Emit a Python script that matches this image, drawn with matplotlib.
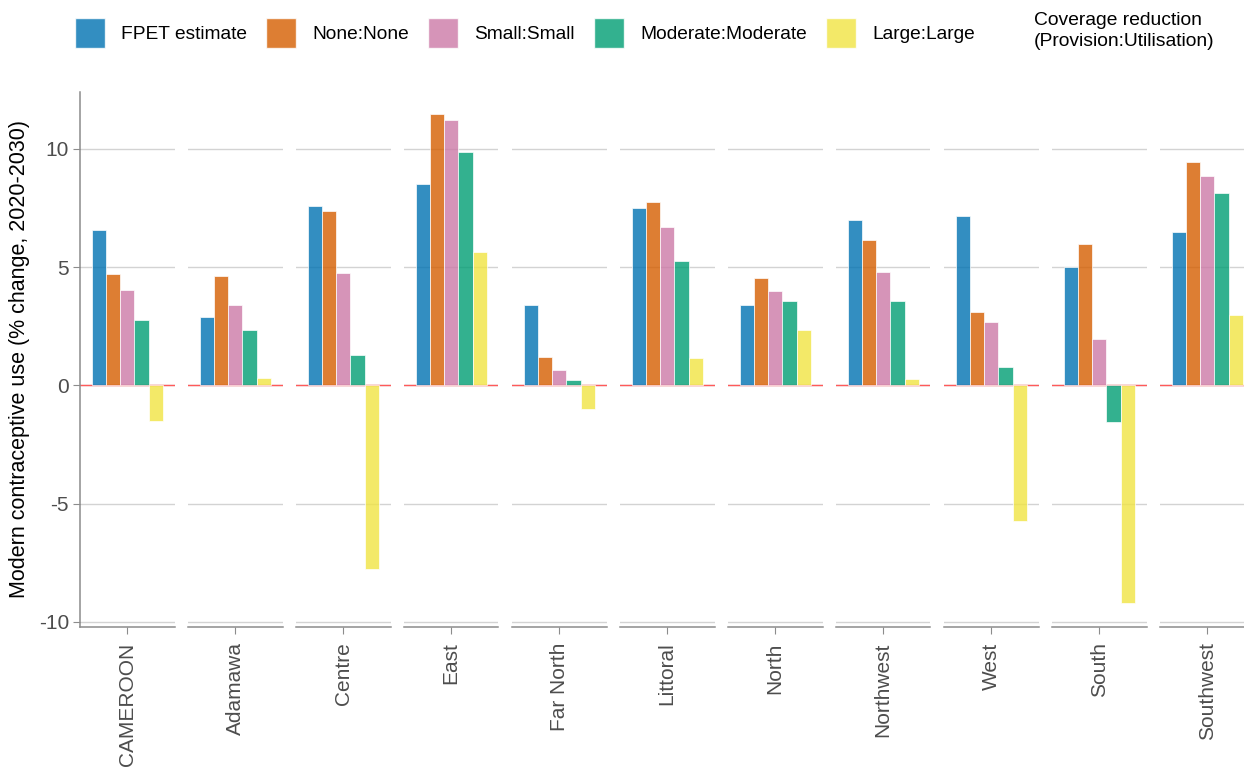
import matplotlib.pyplot as plt
from matplotlib.patches import Patch
import numpy as np

plt.rcParams['font.family'] = ['Liberation Sans', 'DejaVu Sans']

regions = ["CAMEROON", "Adamawa", "Centre", "East", "Far North", "Littoral",
           "North", "Northwest", "West", "South", "Southwest"]
series = ["FPET estimate", "None:None", "Small:Small", "Moderate:Moderate", "Large:Large"]
colors = ["#0072B2", "#D55E00", "#CC79A7", "#009E73", "#F0E442"]

fpet     = [6.57, 2.88, 7.60, 8.49, 3.39, 7.50, 3.40, 7.00, 7.17, 4.99, 6.48]
none     = [4.70, 4.63, 7.35, 11.45, 1.19, 7.73, 4.55, 6.15, 3.11, 5.97, 9.45]
small    = [4.03, 3.38, 4.75, 11.23, 0.66, 6.69, 4.00, 4.80, 2.68, 1.95, 8.83]
moderate = [2.78, 2.34, 1.30, 9.86, 0.24, 5.25, 3.55, 3.55, 0.78, -1.55, 8.12]
large    = [-1.51, 0.31, -7.75, 5.64, -0.99, 1.16, 2.35, 0.28, -5.73, -9.21, 2.97]
values = [fpet, none, small, moderate, large]

W, H = 1244, 767
fig = plt.figure(figsize=(W / 100, H / 100), dpi=100)

left0, step, pw = 80, 108, 94.5
top, bottom = 92, 627
bw = 0.18
offsets = (np.arange(5) - 2) * bw

for i, reg in enumerate(regions):
    ax = fig.add_axes([(left0 + i * step) / W, (H - bottom) / H, pw / W, (bottom - top) / H])
    for k in range(5):
        ax.bar(offsets[k], values[k][i], width=bw, color=colors[k], alpha=0.8,
               edgecolor="white", linewidth=0.6, zorder=3)
    ax.axhline(0, color="#ff5a5a", lw=1.0, zorder=2)
    ax.set_xlim(-0.6, 0.6)
    ax.set_ylim(-10.22, 12.4)
    ax.set_yticks([-10, -5, 0, 5, 10])
    ax.yaxis.grid(True, color="#d3d3d3", lw=1.0, zorder=0)
    ax.set_axisbelow(True)
    ax.set_xticks([0])
    ax.set_xticklabels([reg], rotation=90, fontsize=15, color="#4d4d4d")
    for s in ["top", "right"]:
        ax.spines[s].set_visible(False)
    ax.spines["bottom"].set_color("#8c8c8c")
    ax.spines["bottom"].set_linewidth(1.1)
    ax.tick_params(axis="x", length=5, color="#8c8c8c", pad=6)
    if i == 0:
        ax.spines["left"].set_color("#8c8c8c")
        ax.spines["left"].set_linewidth(1.1)
        ax.set_yticklabels(["-10", "-5", "0", "5", "10"], fontsize=15, color="#4d4d4d")
        ax.tick_params(axis="y", length=5, color="#8c8c8c", pad=3)
        ax.set_ylabel("Modern contraceptive use (% change, 2020-2030)", fontsize=15.5, labelpad=6)
    else:
        ax.spines["left"].set_visible(False)
        ax.tick_params(axis="y", left=False, labelleft=False)

handles = [Patch(facecolor=c, alpha=0.8, edgecolor="white") for c in colors]
fig.legend(handles, series, loc="upper left", bbox_to_anchor=(58 / W, 1 - 1 / H),
           ncol=5, frameon=False, fontsize=13.8, handlelength=1.55, handleheight=2.0,
           handletextpad=0.85, columnspacing=1.0)
fig.text(1034 / W, 1 - 12 / H, "Coverage reduction\n(Provision:Utilisation)",
         fontsize=13.9, va="top", ha="left", linespacing=1.3)

fig.savefig("out.png", dpi=100)
